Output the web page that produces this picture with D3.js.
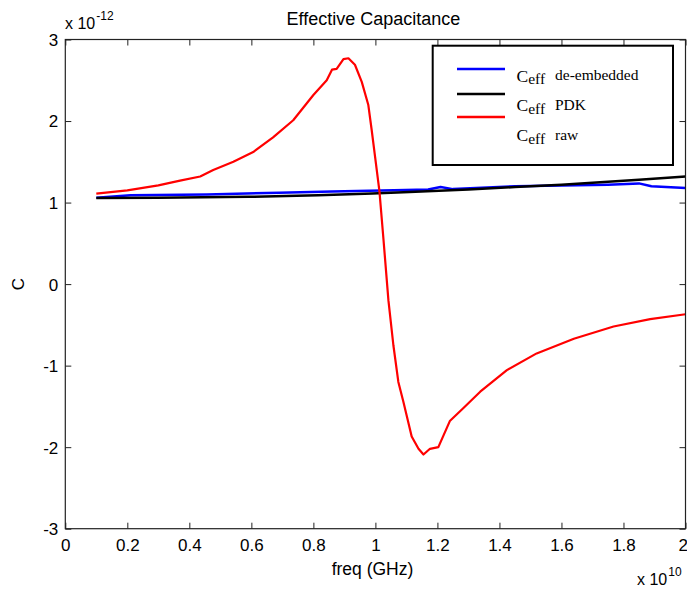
<!DOCTYPE html>
<html>
<head>
<meta charset="utf-8">
<script src="https://cdn.jsdelivr.net/npm/d3@7"></script>
<style>
  html, body { margin: 0; padding: 0; background: #fff; }
  svg { display: block; }
  text { font-family: "Liberation Sans", Arial, sans-serif; fill: #000; }
  .serif { font-family: "Liberation Serif", "Times New Roman", serif; }
</style>
</head>
<body>
<svg id="chart" width="687" height="590"></svg>
<script>
// ---- data (freq in units of 1e10 Hz, C in units of 1e-12 F) ----
const xTicks = [0, 0.2, 0.4, 0.6, 0.8, 1, 1.2, 1.4, 1.6, 1.8, 2];
const yTicks = [-3, -2, -1, 0, 1, 2, 3];

const freqRaw = [0.10, 0.20, 0.30, 0.37, 0.435, 0.477, 0.542, 0.606, 0.67, 0.735, 0.80, 0.843, 0.86, 0.875, 0.897, 0.913, 0.934, 0.956, 0.977, 0.988, 0.999, 1.013, 1.026, 1.042, 1.058, 1.074, 1.09, 1.117, 1.139, 1.155, 1.176, 1.203, 1.24, 1.284, 1.338, 1.424, 1.52, 1.64, 1.768, 1.886, 2.0];
const cRaw    = [1.11, 1.15, 1.21, 1.27, 1.32, 1.40, 1.50, 1.62, 1.80, 2.01, 2.32, 2.50, 2.63, 2.64, 2.76, 2.77, 2.69, 2.48, 2.20, 1.89, 1.56, 1.14, 0.55, -0.20, -0.75, -1.20, -1.44, -1.87, -2.02, -2.09, -2.02, -2.00, -1.68, -1.52, -1.32, -1.055, -0.85, -0.67, -0.52, -0.43, -0.37];

const freqPdk = [0.10, 0.30, 0.59, 0.815, 0.99, 1.11, 1.30, 1.45, 1.60, 1.85, 2.0];
const cPdk    = [1.055, 1.06, 1.07, 1.09, 1.11, 1.13, 1.16, 1.19, 1.22, 1.28, 1.32];

const freqDe = [0.10, 0.21, 0.456, 0.69, 0.86, 1.06, 1.17, 1.21, 1.25, 1.45, 1.60, 1.75, 1.85, 1.89, 2.0];
const cDe    = [1.06, 1.09, 1.10, 1.12, 1.135, 1.15, 1.16, 1.19, 1.165, 1.20, 1.21, 1.22, 1.235, 1.20, 1.18];

const seriesNames = ["de-embedded", "PDK", "raw"];
const seriesColors = ["#0000ff", "#000000", "#ff0000"];

// ---- layout ----
const svg = d3.select("#chart");
const L = 65.3, R = 685.5, T = 39.5, B = 528.7;
const x = d3.scaleLinear().domain([0, 2]).range([L, R]);
const y = d3.scaleLinear().domain([-3, 3]).range([B, T]);
const tickLen = 6;

const plot = svg.append("g");

const series = [
  { f: freqDe, c: cDe, color: seriesColors[0], w: 2.5 },
  { f: freqPdk, c: cPdk, color: seriesColors[1], w: 2.5 },
  { f: freqRaw, c: cRaw, color: seriesColors[2], w: 2.2 }
];
const line = d3.line().x(d => x(d[0])).y(d => y(d[1]));
series.forEach(s => {
  plot.append("path")
    .datum(s.f.map((v, i) => [v, s.c[i]]))
    .attr("d", line)
    .attr("fill", "none")
    .attr("stroke", s.color)
    .attr("stroke-width", s.w)
    .attr("stroke-linejoin", "round");
});

const fmt = d => String(d);
const axB = svg.append("g").attr("transform", `translate(0,${B})`)
  .call(d3.axisBottom(x).tickValues(xTicks).tickSizeInner(-tickLen).tickSizeOuter(0).tickPadding(10).tickFormat(fmt));
const axT = svg.append("g").attr("transform", `translate(0,${T})`)
  .call(d3.axisTop(x).tickValues(xTicks).tickSizeInner(-tickLen).tickSizeOuter(0).tickFormat(""));
const axL = svg.append("g").attr("transform", `translate(${L},0)`)
  .call(d3.axisLeft(y).tickValues(yTicks).tickSizeInner(-tickLen).tickSizeOuter(0).tickPadding(7).tickFormat(fmt));
const axRt = svg.append("g").attr("transform", `translate(${R},0)`)
  .call(d3.axisRight(y).tickValues(yTicks).tickSizeInner(-tickLen).tickSizeOuter(0).tickFormat(""));

[axB, axT, axL, axRt].forEach(a => {
  a.select(".domain").remove();
  a.selectAll(".tick line").attr("stroke", "#222").attr("stroke-width", 1);
  a.selectAll("text").attr("font-size", 17).attr("font-family", "Liberation Sans, Arial, sans-serif").attr("fill", "#000");
});
axB.selectAll("text").attr("dy", "0.71em");
axL.selectAll("text").attr("dy", "0.35em");
axB.selectAll(".tick").filter(d => d === 2).select("text").attr("text-anchor", "end").attr("dx", 2);

// frame
svg.append("rect").attr("x", L).attr("y", T).attr("width", R - L).attr("height", B - T)
  .attr("fill", "none").attr("stroke", "#222").attr("stroke-width", 1.2);

// title & labels
svg.append("text").attr("x", 373.5).attr("y", 25).attr("text-anchor", "middle")
  .attr("font-size", 18).text("Effective Capacitance");
svg.append("text").attr("x", 372.5).attr("y", 575).attr("text-anchor", "middle")
  .attr("font-size", 17.5).text("freq (GHz)");
svg.append("text").attr("transform", "translate(24,284) rotate(-90)").attr("text-anchor", "middle")
  .attr("font-size", 17).text("C");

// exponent labels
const e1 = svg.append("text").attr("x", 65).attr("y", 29).attr("font-size", 16);
e1.append("tspan").text("x 10");
e1.append("tspan").attr("font-size", 12).attr("dy", -9).attr("dx", 1).text("-12");
const e2 = svg.append("text").attr("x", 637).attr("y", 585).attr("font-size", 16);
e2.append("tspan").text("x 10");
e2.append("tspan").attr("font-size", 12).attr("dy", -9).attr("dx", 1).text("10");

// legend
const lg = svg.append("g");
lg.append("rect").attr("x", 432.7).attr("y", 45.7).attr("width", 240.3).attr("height", 119.3)
  .attr("fill", "#fff").attr("stroke", "#000").attr("stroke-width", 2);
const lineYs = [69, 94, 117];
const textYs = [81.5, 111, 141];
seriesNames.forEach((name, i) => {
  lg.append("line").attr("x1", 457).attr("x2", 505).attr("y1", lineYs[i]).attr("y2", lineYs[i])
    .attr("stroke", seriesColors[i]).attr("stroke-width", 2.5);
  const t = lg.append("text").attr("class", "serif").attr("x", 516.5).attr("y", textYs[i]).attr("font-size", 17.5);
  t.append("tspan").text("C");
  t.append("tspan").attr("font-size", 15.5).attr("dy", 2.5).text("eff");
  lg.append("text").attr("class", "serif").attr("x", 555).attr("y", textYs[i] - 1.5)
    .attr("font-size", 15.5).text(name);
});
</script>
</body>
</html>
